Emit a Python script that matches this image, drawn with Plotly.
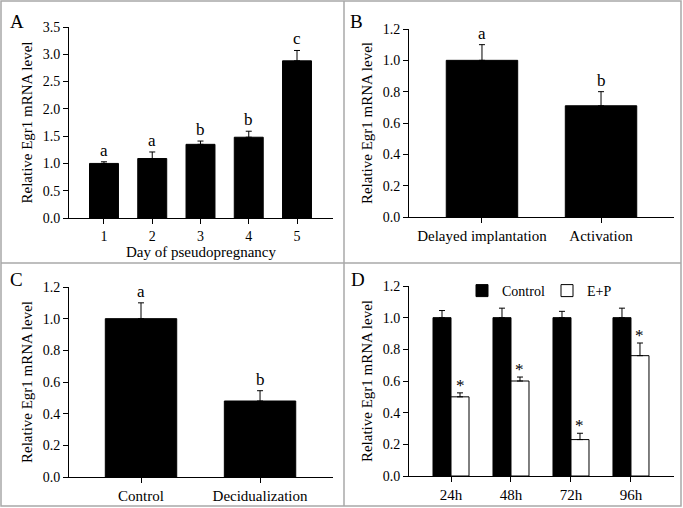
import plotly.graph_objects as go

# panel A - day of pseudopregnancy
days = ["1", "2", "3", "4", "5"]
a_vals = [1.00, 1.09, 1.35, 1.48, 2.88]
a_err = [0.03, 0.12, 0.06, 0.11, 0.19]
a_letters = ["a", "a", "b", "b", "c"]

# panel B - delayed implantation vs activation
b_cats = ["Delayed implantation", "Activation"]
b_vals = [1.00, 0.71]
b_err = [0.10, 0.09]
b_letters = ["a", "b"]

# panel C - decidualization
c_cats = ["Control", "Decidualization"]
c_vals = [1.00, 0.48]
c_err = [0.10, 0.065]
c_letters = ["a", "b"]

# panel D - E+P time course
d_cats = ["24h", "48h", "72h", "96h"]
d_ctrl = [1.00, 1.00, 1.00, 1.00]
d_ctrl_err = [0.045, 0.06, 0.04, 0.06]
d_ep = [0.50, 0.60, 0.23, 0.76]
d_ep_err = [0.025, 0.025, 0.04, 0.08]
d_marks = ["*", "*", "*", "*"]

W, H = 683, 508
FONT = "Liberation Serif, Times New Roman, serif"

def px_x(p):
    return p / W

def px_y(p):
    return 1 - p / H

def err(arr):
    return dict(type="data", array=arr, arrayminus=[0] * len(arr), symmetric=False,
                color="black", thickness=1, width=3)

fig = go.Figure()
fig.add_trace(go.Bar(x=days, y=a_vals, error_y=err(a_err), marker=dict(color="black", line=dict(color="black", width=1)),
                     xaxis="x", yaxis="y", showlegend=False))
fig.add_trace(go.Bar(x=b_cats, y=b_vals, error_y=err(b_err), marker=dict(color="black", line=dict(color="black", width=1)),
                     xaxis="x2", yaxis="y2", showlegend=False))
fig.add_trace(go.Bar(x=c_cats, y=c_vals, error_y=err(c_err), marker=dict(color="black", line=dict(color="black", width=1)),
                     xaxis="x3", yaxis="y3", showlegend=False))
fig.add_trace(go.Bar(x=d_cats, y=d_ctrl, error_y=err(d_ctrl_err), name="Control",
                     marker=dict(color="black", line=dict(color="black", width=1)), xaxis="x4", yaxis="y4"))
fig.add_trace(go.Bar(x=d_cats, y=d_ep, error_y=err(d_ep_err), name="E+P",
                     marker=dict(color="white", line=dict(color="black", width=1)), xaxis="x4", yaxis="y4"))

xdom_l = [px_x(69), px_x(333)]
xdom_r = [px_x(409), px_x(674)]

def xax(dom, anchor, rng, size=15):
    return dict(type="category", domain=dom, anchor=anchor, range=rng, showline=True, linecolor="black",
                linewidth=1, ticks="outside", ticklen=5, tickcolor="black", showgrid=False, zeroline=False,
                automargin=False, tickfont=dict(size=size, color="black"), fixedrange=True)

def yax(dom, anchor, rng, dtick, fmt):
    return dict(domain=dom, anchor=anchor, range=rng, dtick=dtick, tickformat=fmt, showline=True,
                linecolor="black", linewidth=1, ticks="outside", ticklen=5, tickcolor="black",
                showgrid=False, zeroline=False, automargin=False, tickfont=dict(size=14, color="black"),
                title=dict(text="Relative Egr1 mRNA level", font=dict(size=15, color="black"), standoff=6))

xa = xax(xdom_l, "y", [-0.725, 4.746], size=14)
xa["title"] = dict(text="Day of pseudopregnancy", font=dict(size=15, color="black"), standoff=0)

fig.update_layout(
    template="none",
    width=W, height=H, margin=dict(l=0, r=0, t=0, b=0),
    paper_bgcolor="white", plot_bgcolor="white",
    font=dict(family=FONT, color="black"),
    barmode="group", bargap=0.4, bargroupgap=0,
    xaxis=xa,
    yaxis=yax([px_y(218), px_y(27)], "x", [0, 3.5], 0.5, ".1f"),
    xaxis2=xax(xdom_r, "y2", [-0.613, 1.613]),
    yaxis2=yax([px_y(217), px_y(29)], "x2", [0, 1.2], 0.2, ".1f"),
    xaxis3=xax(xdom_l, "y3", [-0.605, 1.613]),
    yaxis3=yax([px_y(477), px_y(287)], "x3", [0, 1.2], 0.2, ".1f"),
    xaxis4=xax(xdom_r, "y4", [-0.7, 3.717]),
    yaxis4=yax([px_y(476), px_y(286)], "x4", [0, 1.2], 0.2, ".1f"),
    legend=dict(orientation="h", x=px_x(462), y=px_y(291), xanchor="left", yanchor="middle",
                font=dict(size=14, color="black"), bgcolor="rgba(0,0,0,0)",
                entrywidth=40, entrywidthmode="pixels", itemclick=False),
)

ann = []
for i, t in enumerate(a_letters):
    ann.append(dict(x=i, y=a_vals[i] + a_err[i], xref="x", yref="y", text=t, showarrow=False,
                    yanchor="bottom", yshift=0, font=dict(size=17, color="black")))
for i, t in enumerate(b_letters):
    ann.append(dict(x=i, y=b_vals[i] + b_err[i], xref="x2", yref="y2", text=t, showarrow=False,
                    yanchor="bottom", yshift=0, font=dict(size=17, color="black")))
for i, t in enumerate(c_letters):
    ann.append(dict(x=i, y=c_vals[i] + c_err[i], xref="x3", yref="y3", text=t, showarrow=False,
                    yanchor="bottom", yshift=0, font=dict(size=17, color="black")))
for i, t in enumerate(d_marks):
    ann.append(dict(x=i + 0.15, y=d_ep[i] + d_ep_err[i], xref="x4", yref="y4", text=t, showarrow=False,
                    yanchor="bottom", yshift=-4, font=dict(size=17, color="black")))

# panel letters
for lab, x, y in [("A", 8, 9), ("B", 348, 9), ("C", 8, 267), ("D", 349, 267)]:
    ann.append(dict(x=px_x(x), y=px_y(y), xref="paper", yref="paper", text=lab, showarrow=False,
                    xanchor="left", yanchor="top", font=dict(size=19, color="black")))
fig.update_layout(annotations=ann)

# panel frames
grey = "#a8a8a8"
fig.add_shape(type="rect", xref="paper", yref="paper", x0=px_x(1), x1=px_x(681), y0=px_y(506), y1=px_y(1),
              line=dict(color=grey, width=1.5))
fig.add_shape(type="line", xref="paper", yref="paper", x0=px_x(344), x1=px_x(344), y0=px_y(506), y1=px_y(1),
              line=dict(color=grey, width=1.5))
fig.add_shape(type="line", xref="paper", yref="paper", x0=px_x(1), x1=px_x(681), y0=px_y(263), y1=px_y(263),
              line=dict(color=grey, width=1.5))

fig.write_html("out.html", config={"displayModeBar": False},
               post_script="document.body.style.margin='0';document.body.style.overflow='hidden';")
